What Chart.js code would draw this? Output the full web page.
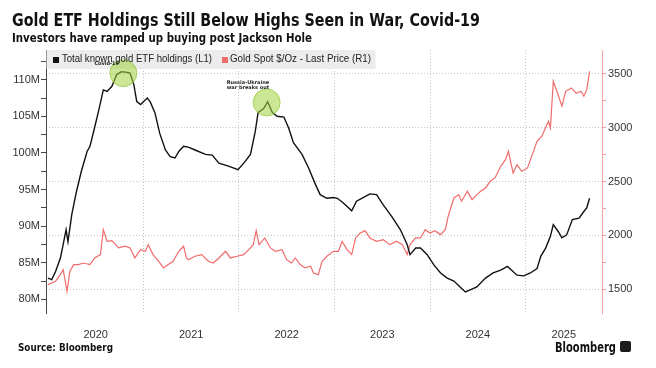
<!DOCTYPE html>
<html><head><meta charset="utf-8">
<script src="https://cdn.jsdelivr.net/npm/chart.js@4.4.1/dist/chart.umd.min.js"></script>
<style>
html,body{margin:0;padding:0;background:#fff;}
#wrap{position:relative;width:656px;height:368px;overflow:hidden;}
#c{position:absolute;left:0;top:0;}
.t{position:absolute;white-space:nowrap;transform-origin:0 0;line-height:1;color:#111;}
.title{font-family:"DejaVu Sans",sans-serif;font-weight:bold;font-size:18px;left:12px;top:11px;}
.sub{font-family:"DejaVu Sans",sans-serif;font-weight:bold;font-size:13px;left:12px;top:31px;}
.leg{font-family:"Liberation Sans",sans-serif;font-size:11px;top:53px;color:#222;}
.sq{position:absolute;width:6px;height:6px;top:57px;}
.src{font-family:"DejaVu Sans",sans-serif;font-weight:bold;font-size:10px;left:18px;top:343px;}
.bb{font-family:"DejaVu Sans",sans-serif;font-weight:bold;font-size:14px;left:555px;top:340px;}
.logo{position:absolute;left:620px;top:341px;width:11px;height:11px;background:#1c1c1c;border-radius:2px;}
</style></head>
<body>
<div id="wrap">
<canvas id="c" width="656" height="368"></canvas>
<div class="t title" data-w="468">Gold ETF Holdings Still Below Highs Seen in War, Covid-19</div>
<div class="t sub" data-w="300">Investors have ramped up buying post Jackson Hole</div>
<div class="sq" style="left:53px;background:#111;"></div>
<div class="t leg" style="left:62px;" data-w="150">Total known gold ETF holdings (L1)</div>
<div class="sq" style="left:222px;background:#f26b6b;"></div>
<div class="t leg" style="left:230px;" data-w="141">Gold Spot $/Oz - Last Price (R1)</div>
<div class="t src" data-w="95">Source: Bloomberg</div>
<div class="t bb" data-w="61">Bloomberg</div>
<div class="logo"></div>
</div>
<script>
// ---- Data (time as decimal years) ----
const etfDates = [2020.00,2020.04,2020.08,2020.13,2020.16,2020.19,2020.21,2020.25,2020.30,2020.35,2020.41,2020.44,2020.48,2020.53,2020.58,2020.62,2020.67,2020.72,2020.77,2020.83,2020.86,2020.90,2020.93,2020.97,2021.00,2021.04,2021.07,2021.12,2021.17,2021.23,2021.28,2021.33,2021.37,2021.42,2021.47,2021.54,2021.65,2021.72,2021.79,2021.89,2021.99,2022.05,2022.12,2022.17,2022.20,2022.26,2022.30,2022.35,2022.40,2022.47,2022.52,2022.57,2022.66,2022.73,2022.80,2022.85,2022.92,2022.99,2023.03,2023.09,2023.18,2023.23,2023.30,2023.37,2023.44,2023.51,2023.60,2023.69,2023.76,2023.79,2023.85,2023.90,2023.97,2024.04,2024.11,2024.18,2024.25,2024.32,2024.37,2024.42,2024.49,2024.58,2024.66,2024.74,2024.81,2024.86,2024.91,2024.98,2025.05,2025.12,2025.16,2025.21,2025.26,2025.29,2025.34,2025.38,2025.43,2025.49,2025.56,2025.61,2025.64,2025.67];
const etfHoldingsM = [82.9,82.7,83.8,85.6,87.5,89.5,87.9,91.6,94.8,97.5,100.2,100.9,103.0,105.7,108.6,108.4,109.1,110.7,111.1,111.0,110.9,109.3,107.0,106.6,107.0,107.5,107.0,105.5,102.7,100.4,99.5,99.3,100.2,100.9,100.8,100.4,99.8,99.7,98.6,98.2,97.7,98.6,99.8,102.9,105.5,106.1,107.0,105.5,105.0,104.9,103.4,101.4,99.8,97.9,95.7,94.3,93.8,93.9,93.8,93.2,92.1,93.4,93.9,94.4,94.3,92.9,91.3,89.5,87.5,86.1,87.0,87.0,86.1,84.7,83.6,82.9,82.5,81.6,81.0,81.3,81.7,82.9,83.6,84.0,84.5,83.9,83.3,83.2,83.6,84.2,85.9,87.0,88.6,90.2,89.3,88.4,88.8,90.9,91.1,92.0,92.5,93.8];

const goldDates = [2020.00,2020.08,2020.13,2020.16,2020.20,2020.23,2020.27,2020.32,2020.37,2020.44,2020.49,2020.55,2020.58,2020.62,2020.67,2020.74,2020.81,2020.86,2020.91,2020.97,2021.02,2021.05,2021.10,2021.16,2021.21,2021.26,2021.31,2021.37,2021.42,2021.45,2021.47,2021.54,2021.61,2021.68,2021.73,2021.79,2021.86,2021.91,2021.98,2022.05,2022.12,2022.15,2022.18,2022.21,2022.27,2022.33,2022.38,2022.45,2022.50,2022.55,2022.59,2022.64,2022.69,2022.75,2022.78,2022.83,2022.87,2022.92,2022.99,2023.04,2023.08,2023.13,2023.18,2023.22,2023.27,2023.32,2023.37,2023.44,2023.51,2023.58,2023.65,2023.71,2023.76,2023.79,2023.85,2023.90,2023.95,2024.00,2024.05,2024.11,2024.16,2024.19,2024.25,2024.30,2024.33,2024.39,2024.44,2024.49,2024.53,2024.58,2024.63,2024.68,2024.74,2024.79,2024.82,2024.87,2024.91,2024.96,2025.02,2025.07,2025.12,2025.17,2025.20,2025.24,2025.26,2025.29,2025.34,2025.38,2025.42,2025.48,2025.53,2025.58,2025.61,2025.64,2025.67];
const goldPrice = [1541,1572,1634,1680,1479,1665,1727,1727,1742,1727,1789,1820,2052,1944,1950,1882,1898,1882,1789,1866,1851,1913,1820,1758,1696,1727,1758,1851,1898,1789,1773,1805,1820,1758,1742,1789,1851,1789,1805,1820,1882,1913,2043,1913,1975,1882,1851,1866,1773,1742,1789,1727,1696,1712,1649,1634,1758,1805,1851,1851,1944,1866,1820,1975,2021,2043,1975,1944,1959,1913,1944,1913,1820,1913,1975,1975,2052,2021,2043,2006,2052,2177,2347,2378,2316,2409,2331,2378,2409,2440,2502,2533,2642,2703,2781,2579,2657,2595,2626,2750,2874,2921,2982,3060,2998,3432,3308,3200,3339,3370,3320,3339,3293,3354,3525];

// ---- Tick labels ----
const yearBoundaries = [2021, 2022, 2023, 2024, 2025];
const yearLabels = ['2020', '2021', '2022', '2023', '2024', '2025'];
const yearLabelAt = [2020.5, 2021.5, 2022.5, 2023.5, 2024.5, 2025.4];
const leftTickValues = [80, 85, 90, 95, 100, 105, 110];
const rightTickValues = [1500, 2000, 2500, 3000, 3500];

// ---- Annotations ----
const annotations = [
  {t: 2020.79, v: 110.9, text: ['Covid-19'], dx: -29, dy: -9},
  {t: 2022.29, v: 106.9, text: ['Russia-Ukraine', 'war breaks out'], dx: -40, dy: -20}
];

const leftMinor = [];
for (let i = 0; i < leftTickValues.length; i++) { leftMinor.push(leftTickValues[i]); leftMinor.push(leftTickValues[i] + 2.5); }
const rightMinor = [];
for (let i = 0; i < rightTickValues.length; i++) { rightMinor.push(rightTickValues[i]); if (i < rightTickValues.length - 1) rightMinor.push(rightTickValues[i] + 250); }

const overlay = {
  id: 'overlay',
  beforeDatasetsDraw(chart) {
    const ctx = chart.ctx, a = chart.chartArea;
    ctx.save();
    ctx.fillStyle = '#ececec';
    ctx.fillRect(a.left + 0.5, a.top, 329, 19);
    ctx.restore();
  },
  afterDatasetsDraw(chart) {
    const ctx = chart.ctx, xs = chart.scales.x, ys = chart.scales.y;
    ctx.save();
    annotations.forEach(an => {
      const cx = xs.getPixelForValue(an.t), cy = ys.getPixelForValue(an.v);
      ctx.beginPath();
      ctx.arc(cx, cy, 13.5, 0, Math.PI * 2);
      ctx.fillStyle = 'rgba(160,210,60,0.55)';
      ctx.fill();
      ctx.lineWidth = 1;
      ctx.strokeStyle = 'rgba(150,200,60,0.7)';
      ctx.stroke();
      ctx.fillStyle = '#222';
      ctx.font = 'bold 5px "DejaVu Sans"';
      ctx.textBaseline = 'middle';
      an.text.forEach((line, i) => ctx.fillText(line, cx + an.dx, cy + an.dy + i * 5));
    });
    ctx.restore();
  }
};

const tickFont = {family: 'Liberation Sans', size: 11};

new Chart(document.getElementById('c'), {
  type: 'line',
  data: {
    datasets: [
      {label: 'Total known gold ETF holdings (L1)', data: etfDates.map((t, i) => ({x: t, y: etfHoldingsM[i]})),
       yAxisID: 'y', borderColor: '#111', borderWidth: 1.4, pointRadius: 0, tension: 0},
      {label: 'Gold Spot $/Oz - Last Price (R1)', data: goldDates.map((t, i) => ({x: t, y: goldPrice[i]})),
       yAxisID: 'y1', borderColor: '#f26b6b', borderWidth: 1.2, pointRadius: 0, tension: 0}
    ]
  },
  options: {
    responsive: false, animation: false, devicePixelRatio: 1,
    layout: {padding: {top: 50, left: 0, right: 0, bottom: 0}},
    plugins: {legend: {display: false}, tooltip: {enabled: false}},
    scales: {
      x: {
        type: 'linear', min: 2019.98, max: 2025.80,
        afterBuildTicks(s) { s.ticks = yearBoundaries.concat(yearLabelAt).sort((a, b) => a - b).map(v => ({value: v})); },
        afterFit(s) { s.height = 55; },
        grid: {color: c => (c.tick && yearBoundaries.includes(c.tick.value)) ? '#c4c4c4' : 'rgba(0,0,0,0)', drawTicks: false, lineWidth: 1, borderDash: [1, 2]},
        border: {display: false, dash: [1, 2]},
        ticks: {autoSkip: false, maxRotation: 0, padding: 15, color: '#333', font: tickFont,
          callback: v => { const i = yearLabelAt.indexOf(v); return i >= 0 ? yearLabels[i] : ''; }}
      },
      y: {
        position: 'left', min: 78.13, max: 114.06,
        afterBuildTicks(s) { s.ticks = leftMinor.map(v => ({value: v})); },
        afterFit(s) { s.width = 46; },
        grid: {drawOnChartArea: false, tickLength: 5, color: '#444', tickColor: '#444'},
        border: {color: '#444', width: 1},
        ticks: {padding: 1, color: '#333', font: tickFont, autoSkip: false,
          callback: v => leftTickValues.includes(v) ? v + 'M' : ''}
      },
      y1: {
        position: 'right', min: 1277, max: 3723,
        afterBuildTicks(s) { s.ticks = rightMinor.map(v => ({value: v})); },
        afterFit(s) { s.width = 54; },
        grid: {color: c => (c.tick && rightTickValues.includes(c.tick.value)) ? '#c4c4c4' : 'rgba(0,0,0,0)',
               tickColor: '#f5a0a0', tickLength: 4, borderDash: [1, 2], tickBorderDash: []},
        border: {color: '#f5a0a0', width: 1, dash: [1, 2]},
        ticks: {padding: 2, color: '#333', font: tickFont, autoSkip: false,
          callback: v => rightTickValues.includes(v) ? String(v) : ''}
      }
    }
  },
  plugins: [overlay]
});

document.querySelectorAll('[data-w]').forEach(el => {
  const w = el.getBoundingClientRect().width;
  el.style.transform = 'scaleX(' + (parseFloat(el.dataset.w) / w) + ')';
});
</script>
</body></html>
